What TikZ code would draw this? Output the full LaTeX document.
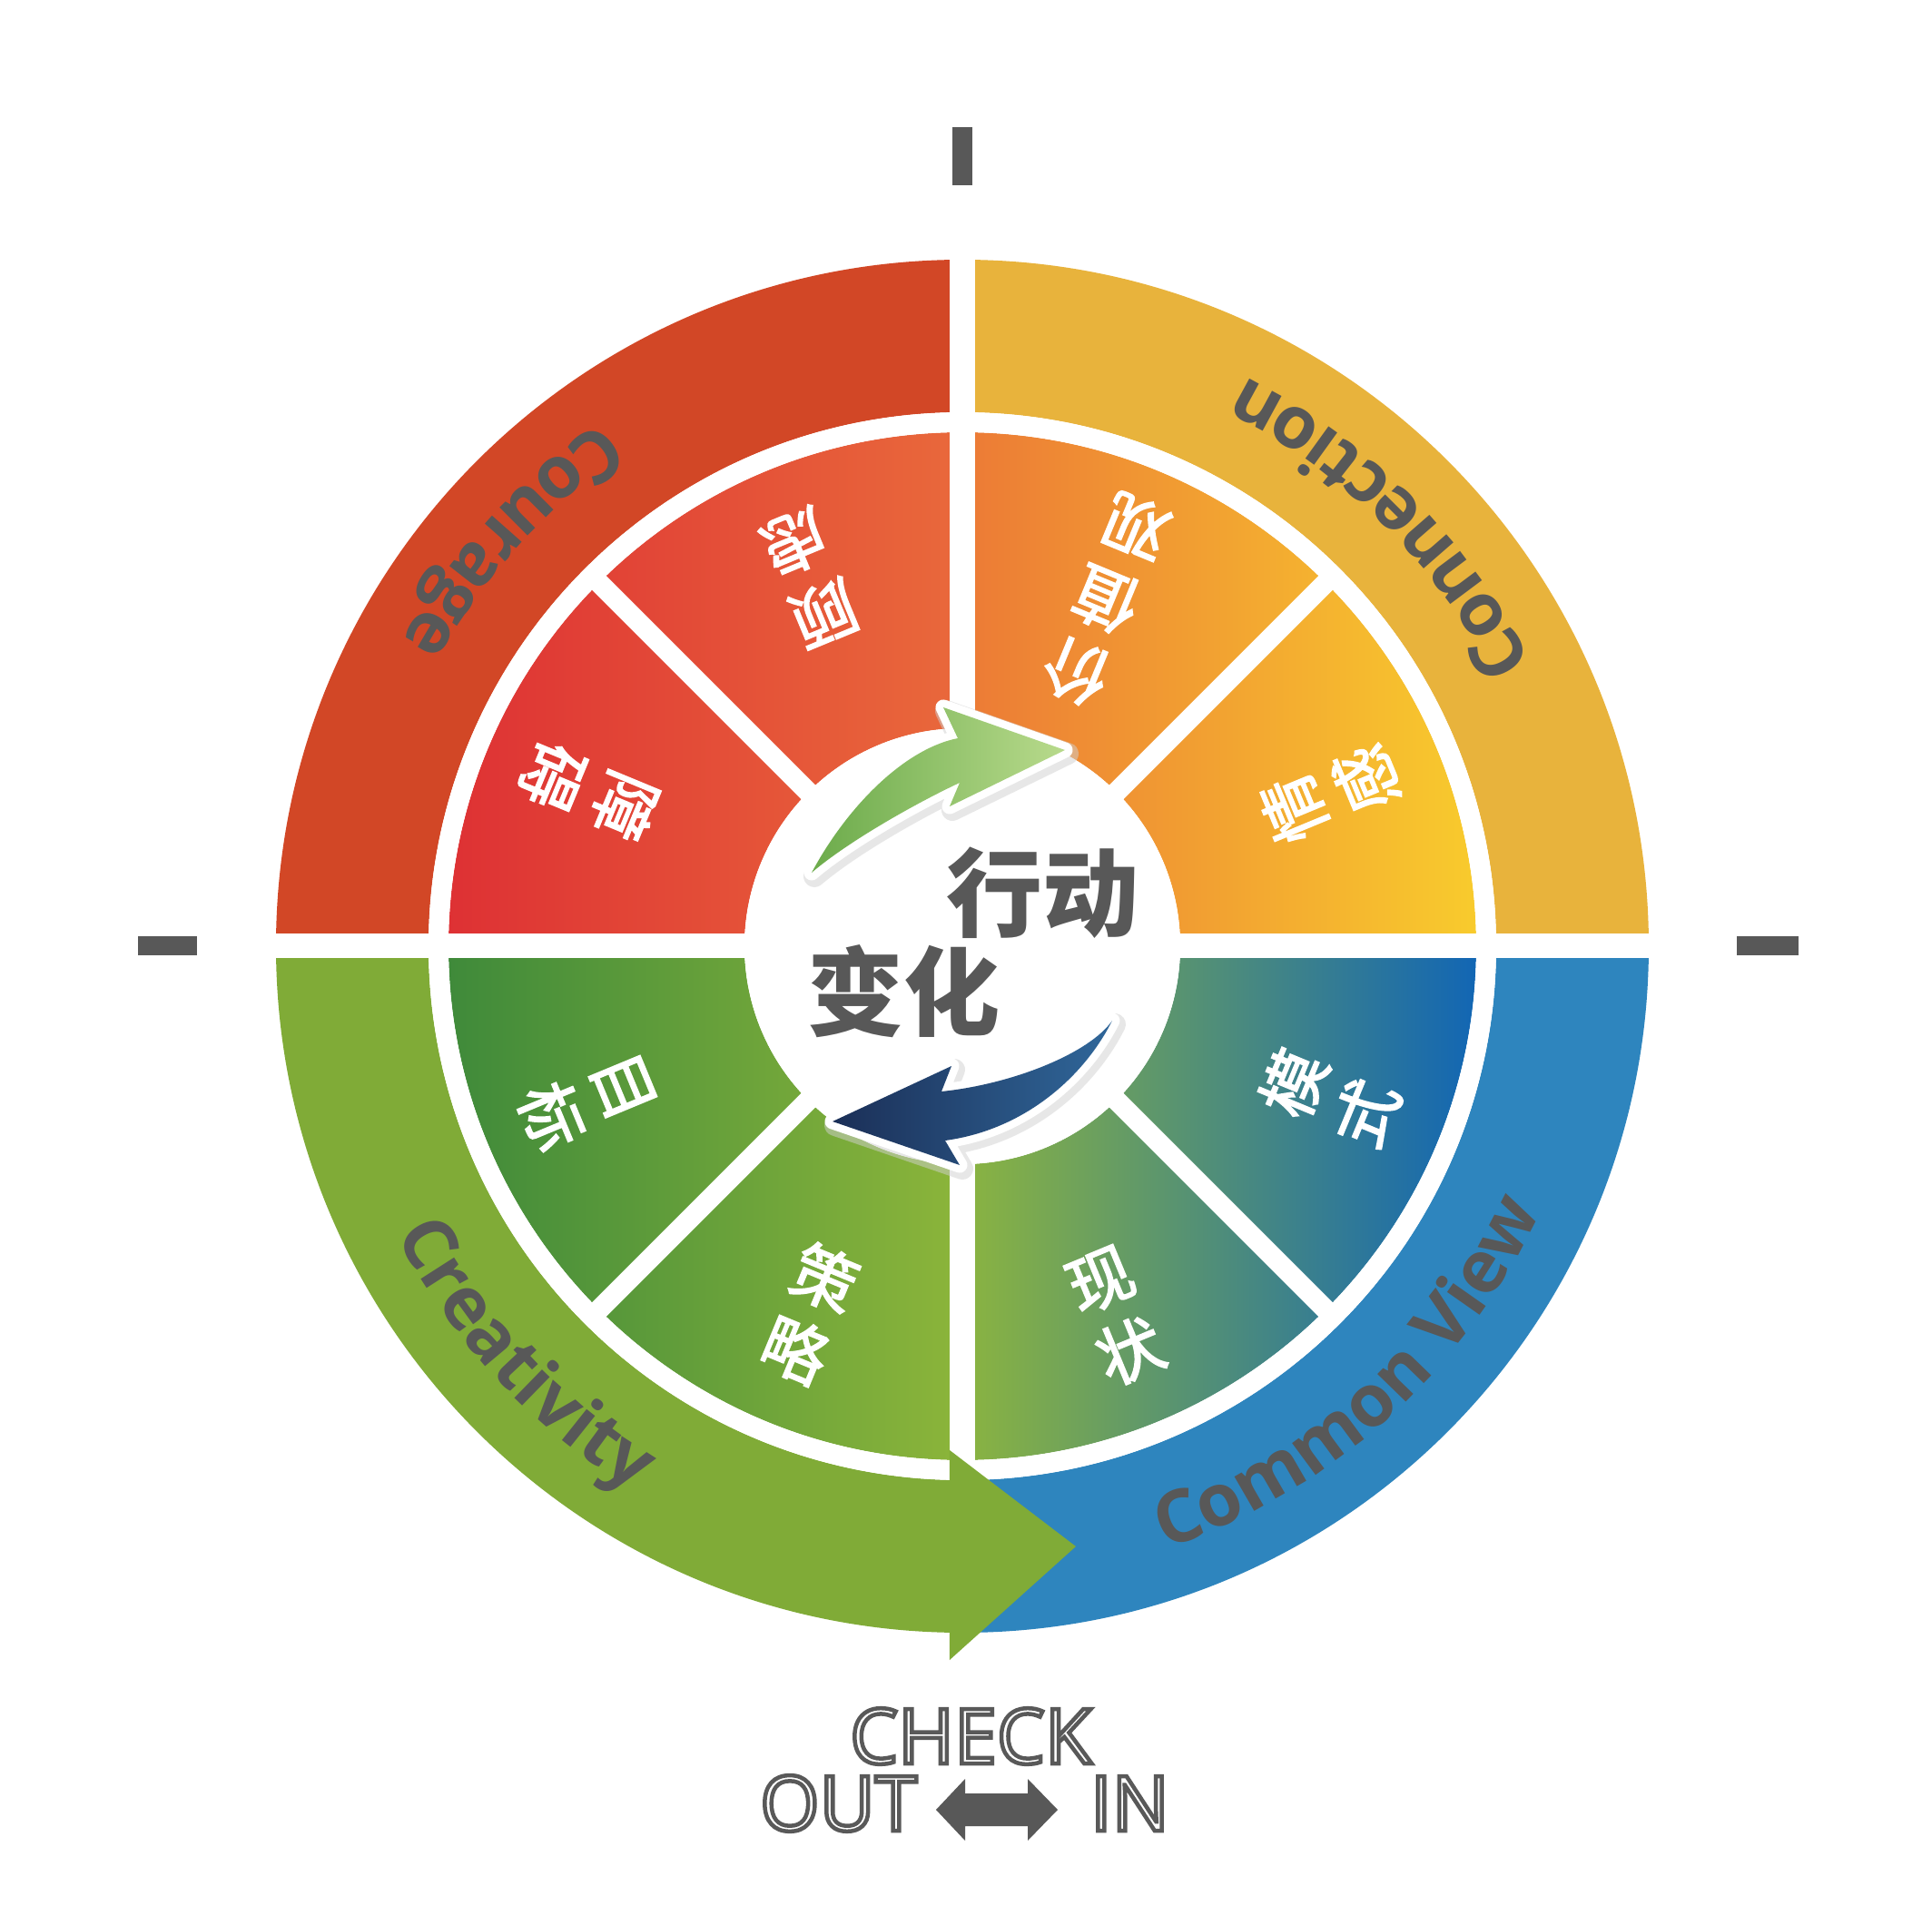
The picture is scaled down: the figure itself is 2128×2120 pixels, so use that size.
\documentclass[tikz,border=0pt]{standalone}
\usepackage{fontspec}
\usetikzlibrary{decorations.text}
\newfontfamily\cjk{Noto Sans CJK SC}
\newfontfamily\osans{Open Sans}
\definecolor{cour}{HTML}{D24726}
\definecolor{conn}{HTML}{E8B33C}
\definecolor{crea}{HTML}{80AB37}
\definecolor{comm}{HTML}{2E85BE}
\definecolor{ulL}{HTML}{DE3134}
\definecolor{ulR}{HTML}{E9693B}
\definecolor{urL}{HTML}{EC7A36}
\definecolor{urR}{HTML}{F8CB2D}
\definecolor{llL}{HTML}{3F8A3A}
\definecolor{llR}{HTML}{8CB53A}
\definecolor{lrL}{HTML}{8BB440}
\definecolor{lrR}{HTML}{1266B4}
\definecolor{txtgray}{HTML}{585858}
\definecolor{garL}{HTML}{6CAB4B}
\definecolor{garR}{HTML}{B8DA8C}
\definecolor{barL}{HTML}{1B2F57}
\definecolor{barR}{HTML}{30679A}
\newcommand\outerfont{\fontsize{80}{80}\selectfont\osans\bfseries\color{txtgray}}
\newcommand\outl[1]{\special{pdf:literal direct 2 Tr 4.5 w 0.35 0.35 0.35 RG}#1\special{pdf:literal direct 0 Tr}}
\newcommand\whitebold[1]{\special{pdf:literal direct 2 Tr 1.6 w 1 1 1 RG}#1\special{pdf:literal direct 0 Tr}}
\newcommand\garrowpath{(-166,81) .. controls (-128,152) and (-65,217) .. (-5,229) -- (-21,263) -- (113,216) -- (-14,154) -- (-3,180) .. controls (-50,158) and (-125,116) .. cycle}
\newcommand\barrowpath{(165,-82) .. controls (140,-118) and (55,-152) .. (-23,-160) -- (-12,-132) -- (-143,-193) -- (-3,-241) -- (-19,-214) .. controls (70,-202) and (135,-142) .. cycle}
\tikzset{
  innerlabel/.style={text=white, font=\cjk\fontsize{72}{86}\selectfont, align=center, inner sep=0pt},
  ringtext/.style={decorate, decoration={text along path, text align=center, text={|\outerfont|#1}}},
  tickmark/.style={fill=txtgray},
  checktext/.style={text=white, font=\osans\fontsize{84}{84}\selectfont, inner sep=0pt, anchor=base west},
  centertext/.style={text=txtgray, font=\cjk\bfseries\fontsize{106}{106}\selectfont, inner sep=0pt},
  gap/.style={white, line width=22pt}
}
\begin{document}
\begin{tikzpicture}[x=1pt,y=1pt]
\useasboundingbox (-1060,-1078) rectangle (1068,1042);
\fill[white] (-1060,-1078) rectangle (1068,1042);

% outer ring quadrants
\fill[cour] (90:756) arc[start angle=90,end angle=180,radius=756] -- (180:588) arc[start angle=180,end angle=90,radius=588] -- cycle;
\fill[conn] (0:756) arc[start angle=0,end angle=90,radius=756] -- (90:588) arc[start angle=90,end angle=0,radius=588] -- cycle;
\fill[crea] (180:756) arc[start angle=180,end angle=270,radius=756] -- (270:588) arc[start angle=270,end angle=180,radius=588] -- cycle;
\fill[comm] (270:756) arc[start angle=270,end angle=360,radius=756] -- (0:588) arc[start angle=360,end angle=270,radius=588] -- cycle;

% inner ring quadrants
\shade[left color=ulL, right color=ulR] (90:566) arc[start angle=90,end angle=180,radius=566] -- (180:240) arc[start angle=180,end angle=90,radius=240] -- cycle;
\shade[left color=urL, right color=urR] (0:566) arc[start angle=0,end angle=90,radius=566] -- (90:240) arc[start angle=90,end angle=0,radius=240] -- cycle;
\shade[left color=llL, right color=llR] (180:566) arc[start angle=180,end angle=270,radius=566] -- (270:240) arc[start angle=270,end angle=180,radius=240] -- cycle;
\shade[left color=lrL, right color=lrR] (270:566) arc[start angle=270,end angle=360,radius=566] -- (0:240) arc[start angle=360,end angle=270,radius=240] -- cycle;

% white gaps
\draw[gap] (0,0) circle (577);
\foreach \a in {45,135,225,315} \draw[gap] (\a:220) -- (\a:570);
\fill[white] (-770,-13.5) rectangle (770,13.5);
\fill[white] (-13.5,-770) rectangle (13.5,770);
\fill[white] (0,0) circle (240);

% green arrow head on outer ring
\fill[crea] (-14,-555) -- (125,-661) -- (-14,-786) -- cycle;

% outer ring texts
\path[ringtext=Courage] (98:702) arc[start angle=98,end angle=178,radius=702];
\path[ringtext=Connection] (5:700) arc[start angle=5,end angle=85,radius=700];
\path[ringtext=Creativity] (183:700) arc[start angle=183,end angle=263,radius=700];
\path[ringtext=Common View] (272:700) arc[start angle=272,end angle=352,radius=700];

% inner ring labels
\node[innerlabel, rotate=247.5] (l1) at (157.5:445) {\whitebold{障}\\\whitebold{碍}};
\node[innerlabel, rotate=202.5] (l2) at (112.5:440) {\whitebold{顾}\\\whitebold{虑}};
\node[innerlabel, rotate=157.5] (l3) at (67.5:413) {\whitebold{价}\\\whitebold{值}\\\whitebold{观}};
\node[innerlabel, rotate=112.5] (l4) at (22.5:438) {\whitebold{情}\\\whitebold{感}};
\node[innerlabel, rotate=67.5] (l5) at (337.5:438) {\whitebold{模}\\\whitebold{式}};
\node[innerlabel, rotate=22.5] (l6) at (292.5:441) {\whitebold{现}\\\whitebold{状}};
\node[innerlabel, rotate=-22.5] (l7) at (247.5:438) {\whitebold{策}\\\whitebold{略}};
\node[innerlabel, rotate=-67.5] (l8) at (202.5:448) {\whitebold{目}\\\whitebold{标}};

% center arrows
\draw[black!18, opacity=0.5, line width=24pt, line join=round] [shift={(3,-4)}] \garrowpath;
\draw[white, line width=17pt, line join=round] \garrowpath;
\shade[left color=garL, right color=garR] \garrowpath;

\draw[black!18, opacity=0.5, line width=24pt, line join=round] [shift={(3,-4)}] \barrowpath;
\draw[white, line width=17pt, line join=round] \barrowpath;
\shade[left color=barL, right color=barR] \barrowpath;

% center text
\node[centertext] (act) at (89,59) {行动};
\node[centertext] (chg) at (-64,-50) {变化};

% ticks
\fill[tickmark] (-11,838) rectangle (11,902);
\fill[tickmark] (-908,-10.5) rectangle (-843,10.5);
\fill[tickmark] (853,-10.5) rectangle (921,10.5);

% check in / out
\node[checktext] (chk) at (-124,-900) {\outl{CHECK}};
\node[checktext] (out) at (-223,-974) {\outl{OUT}};
\node[checktext] (in) at (141,-974) {\outl{IN}};
\fill[txtgray] (-29,-951) -- (3,-917) -- (3,-933) -- (72,-933) -- (72,-917) -- (105,-951) -- (72,-985) -- (72,-969) -- (3,-969) -- (3,-985) -- cycle;
\end{tikzpicture}
\end{document}
